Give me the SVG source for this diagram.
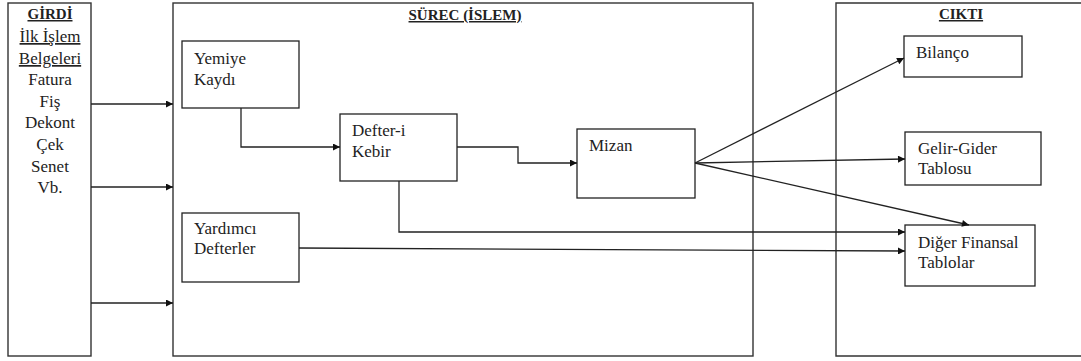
<svg xmlns="http://www.w3.org/2000/svg" width="1081" height="361" viewBox="0 0 1081 361">
  <style>
    .frame { fill: #fff; stroke: #333; stroke-width: 1.4; }
    .box { fill: #fff; stroke: #222; stroke-width: 1.3; }
    .link { fill: none; stroke: #222; stroke-width: 1.3; }
  </style>
  <defs>
    <marker id="arrow" viewBox="0 0 10 10" refX="10" refY="5" markerWidth="8" markerHeight="7" markerUnits="userSpaceOnUse" orient="auto">
      <path d="M0,0 L10,5 L0,10 Z" fill="#111"/>
    </marker>
  </defs>
  <rect width="1081" height="361" fill="#fff"/>

  <!-- Input column -->
  <g id="girdi">
    <rect class="frame" x="8" y="3" width="83" height="353"/>
    <text x="50" y="19" font-family="Liberation Serif" font-size="15" font-weight="bold" text-decoration="underline" text-anchor="middle" fill="#222">GİRDİ</text>
    <g font-family="Liberation Serif" font-size="17" text-anchor="middle" fill="#222">
      <text x="50" y="42" text-decoration="underline">İlk İşlem </text>
      <text x="50" y="64" text-decoration="underline">Belgeleri</text>
      <text x="50" y="85">Fatura</text>
      <text x="50" y="107">Fiş</text>
      <text x="50" y="128">Dekont</text>
      <text x="50" y="150">Çek</text>
      <text x="50" y="172">Senet</text>
      <text x="50" y="193">Vb.</text>
    </g>
  </g>

  <!-- Process frame -->
  <g id="surec">
    <rect class="frame" x="173" y="3" width="580" height="353"/>
    <text x="465" y="20" font-family="Liberation Serif" font-size="15" font-weight="bold" text-decoration="underline" text-anchor="middle" fill="#222">SÜREC (İSLEM)</text>
  </g>

  <!-- Output frame -->
  <g id="cikti">
    <path class="frame" d="M1082,3 H836 V356 H1082"/>
    <text x="961" y="19" font-family="Liberation Serif" font-size="15" font-weight="bold" text-decoration="underline" text-anchor="middle" fill="#222">CIKTI</text>
  </g>

  <g id="yevmiye" font-family="Liberation Serif" font-size="17" fill="#222">
    <rect class="box" x="182" y="41" width="117" height="67"/>
    <text x="194" y="64">Yemiye</text>
    <text x="194" y="85">Kaydı</text>
  </g>

  <g id="defteri-kebir" font-family="Liberation Serif" font-size="17" fill="#222">
    <rect class="box" x="340" y="114" width="117" height="67"/>
    <text x="352" y="136">Defter-i</text>
    <text x="352" y="157">Kebir</text>
  </g>

  <g id="mizan" font-family="Liberation Serif" font-size="17" fill="#222">
    <rect class="box" x="577" y="129" width="118" height="69"/>
    <text x="589" y="151">Mizan</text>
  </g>

  <g id="yardimci" font-family="Liberation Serif" font-size="17" fill="#222">
    <rect class="box" x="182" y="213" width="117" height="69"/>
    <text x="194" y="234">Yardımcı</text>
    <text x="194" y="254">Defterler</text>
  </g>

  <g id="bilanco" font-family="Liberation Serif" font-size="17" fill="#222">
    <rect class="box" x="904" y="36" width="118" height="41"/>
    <text x="916" y="58">Bilanço</text>
  </g>

  <g id="gelir-gider" font-family="Liberation Serif" font-size="17" fill="#222">
    <rect class="box" x="905" y="132" width="136" height="53"/>
    <text x="918" y="154">Gelir-Gider</text>
    <text x="918" y="174">Tablosu</text>
  </g>

  <g id="diger" font-family="Liberation Serif" font-size="17" fill="#222">
    <rect class="box" x="905" y="225" width="130" height="61"/>
    <text x="918" y="248">Diğer Finansal</text>
    <text x="918" y="268">Tablolar</text>
  </g>

  <!-- Connectors -->
  <g id="connectors">
    <line class="link" x1="91" y1="104" x2="173" y2="104" marker-end="url(#arrow)"/>
    <line class="link" x1="91" y1="187" x2="173" y2="187" marker-end="url(#arrow)"/>
    <line class="link" x1="91" y1="303" x2="173" y2="303" marker-end="url(#arrow)"/>
    <polyline class="link" points="241,108 241,147 340,147" marker-end="url(#arrow)"/>
    <polyline class="link" points="457,147 518,147 518,163 577,163" marker-end="url(#arrow)"/>
    <polyline class="link" points="399,181 399,232 905,232" marker-end="url(#arrow)"/>
    <line class="link" x1="299" y1="248" x2="905" y2="251" marker-end="url(#arrow)"/>
    <line class="link" x1="695" y1="163" x2="904" y2="58" marker-end="url(#arrow)"/>
    <line class="link" x1="695" y1="163" x2="905" y2="159" marker-end="url(#arrow)"/>
    <line class="link" x1="695" y1="163" x2="969" y2="225" marker-end="url(#arrow)"/>
  </g>
</svg>
